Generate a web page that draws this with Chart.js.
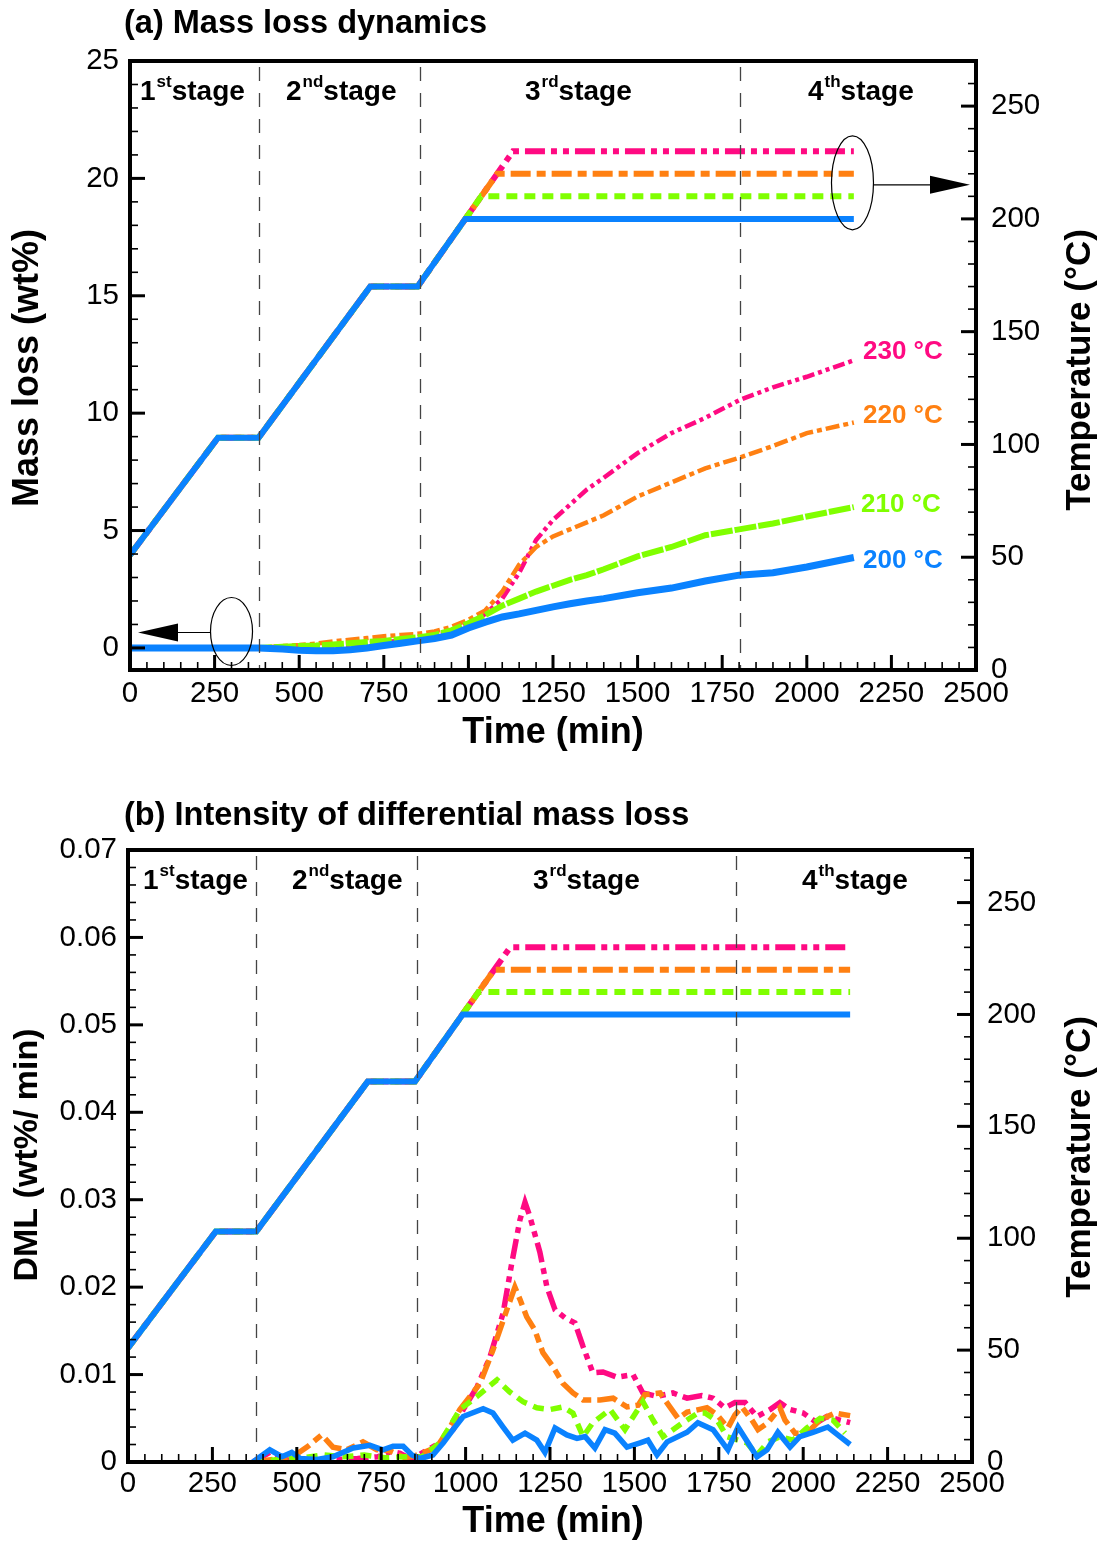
<!DOCTYPE html>
<html>
<head>
<meta charset="utf-8">
<script src="https://cdn.jsdelivr.net/npm/chart.js@4.4.1/dist/chart.umd.min.js"></script>
<style>
  body { margin: 0; background: #fff; }
  canvas { position: absolute; left: 0; }
  #chartA { top: 0; }
  #chartB { top: 770px; }
</style>
</head>
<body>
<canvas id="chartA" width="1108" height="770"></canvas>
<canvas id="chartB" width="1108" height="772"></canvas>
<script>
// ---- data ----
const xTicks = [0, 250, 500, 750, 1000, 1250, 1500, 1750, 2000, 2250, 2500];
const massTicks = [0, 5, 10, 15, 20, 25];
const dmlTicks = [0, 0.01, 0.02, 0.03, 0.04, 0.05, 0.06, 0.07];
const tempTicks = [0, 50, 100, 150, 200, 250];
const stageBounds = [380, 856, 1802];
const seriesNames = ['200 °C', '210 °C', '220 °C', '230 °C'];

// temperature programme (min, °C)
const tempTime200 = [0, 260, 380, 710, 850, 991, 2139];
const temp200 = [51, 103, 103, 170, 170, 200, 200];
const tempTime210 = [0, 260, 380, 710, 850, 1038, 2139];
const temp210 = [51, 103, 103, 170, 170, 210, 210];
const tempTime220 = [0, 260, 380, 710, 850, 1085, 2139];
const temp220 = [51, 103, 103, 170, 170, 220, 220];
const tempTime230 = [0, 260, 380, 710, 850, 1132, 2139];
const temp230 = [51, 103, 103, 170, 170, 230, 230];

// mass loss (wt%)
const massTime = [0, 380, 450, 500, 550, 600, 650, 700, 750, 800, 850, 900, 950, 1000, 1050, 1100,
  1150, 1200, 1250, 1300, 1350, 1400, 1500, 1600, 1700, 1800, 1900, 2000, 2139];
const mass200 = [0, 0, -0.05, -0.1, -0.12, -0.12, -0.08, 0, 0.1, 0.2, 0.3, 0.4, 0.55, 0.85, 1.1, 1.32,
  1.45, 1.6, 1.75, 1.88, 2.0, 2.1, 2.35, 2.55, 2.85, 3.1, 3.2, 3.45, 3.85];
const mass210 = [0, 0, 0.05, 0.08, 0.1, 0.15, 0.2, 0.25, 0.3, 0.38, 0.45, 0.55, 0.75, 1.05, 1.4, 1.8,
  2.1, 2.4, 2.65, 2.9, 3.1, 3.35, 3.9, 4.3, 4.8, 5.05, 5.3, 5.6, 6.0];
const mass220 = [0, 0, 0.08, 0.12, 0.18, 0.28, 0.35, 0.42, 0.5, 0.55, 0.6, 0.7, 0.9, 1.2, 1.6, 2.4,
  3.55, 4.3, 4.75, 5.05, 5.35, 5.65, 6.45, 7.05, 7.65, 8.1, 8.6, 9.15, 9.6];
const mass230 = [0, 0, 0, 0, 0.05, 0.1, 0.15, 0.2, 0.25, 0.3, 0.35, 0.5, 0.7, 1.0, 1.45, 2.1,
  3.2, 4.6, 5.45, 6.1, 6.75, 7.25, 8.3, 9.15, 9.8, 10.55, 11.1, 11.55, 12.25];

// differential mass loss (wt%/min)
const dmlTime200 = [370, 420, 456, 485, 510, 560, 607, 667, 717, 755, 785, 815, 841, 865, 903, 934, 963, 993,
  1052, 1081, 1111, 1140, 1176, 1211, 1235, 1265, 1300, 1330, 1354, 1383, 1413, 1442, 1478, 1517, 1540,
  1567, 1597, 1656, 1688, 1733, 1777, 1807, 1863, 1893, 1925, 1961, 1990, 2029, 2073, 2109, 2139];
const dml200 = [0, 0.0014, 0.0006, 0.0011, 0.0004, 0.0003, 0.0006, 0.0016, 0.0019, 0.0014, 0.0018, 0.0018,
  0.0008, 0.0004, 0.0008, 0.0022, 0.0037, 0.0052, 0.0061, 0.0056, 0.004, 0.0025, 0.0033, 0.0025, 0.0011,
  0.0039, 0.0031, 0.0027, 0.0029, 0.0016, 0.0037, 0.0033, 0.0017, 0.0022, 0.0025, 0.0008, 0.0023, 0.0034,
  0.0045, 0.0037, 0.0014, 0.004, 0.0006, 0.0014, 0.0034, 0.0017, 0.0029, 0.0034, 0.004, 0.0029, 0.002];
const dmlTime210 = [370, 450, 520, 580, 640, 700, 760, 820, 870, 924, 983, 1034, 1093, 1131, 1170, 1211, 1250,
  1288, 1318, 1348, 1377, 1428, 1472, 1525, 1555, 1585, 1644, 1688, 1709, 1748, 1774, 1833, 1863, 1896,
  1931, 1970, 2011, 2050, 2088, 2124];
const dml210 = [0, 0.0003, 0.0005, 0.0008, 0.0006, 0.0008, 0.0005, 0.0006, 0.0006, 0.0022, 0.006, 0.0075,
  0.0094, 0.008, 0.0069, 0.0062, 0.006, 0.0063, 0.0056, 0.0029, 0.0045, 0.006, 0.0037, 0.0069, 0.0048,
  0.0029, 0.0045, 0.0056, 0.0056, 0.0046, 0.0029, 0.0022, 0.0008, 0.0023, 0.0029, 0.0025, 0.0039, 0.005,
  0.0048, 0.0033];
const dmlTime220 = [370, 430, 480, 530, 574, 607, 648, 696, 737, 775, 820, 850, 915, 954, 983, 1043, 1081,
  1122, 1146, 1161, 1181, 1205, 1229, 1259, 1288, 1318, 1348, 1398, 1437, 1478, 1511, 1531, 1576, 1605,
  1629, 1656, 1715, 1745, 1777, 1798, 1818, 1848, 1866, 1896, 1931, 1946, 1976, 2011, 2050, 2094, 2139];
const dml220 = [0, 0.0003, 0.0004, 0.0017, 0.0031, 0.0017, 0.0014, 0.0023, 0.0014, 0.0013, 0.0005, 0.0007,
  0.0017, 0.004, 0.006, 0.009, 0.0128, 0.0174, 0.02, 0.0186, 0.0166, 0.0151, 0.0125, 0.0109, 0.009,
  0.0079, 0.0071, 0.0071, 0.0073, 0.0063, 0.0065, 0.0077, 0.0079, 0.0063, 0.005, 0.0057, 0.0062, 0.0054,
  0.0039, 0.0054, 0.0063, 0.0048, 0.0037, 0.0045, 0.0062, 0.0048, 0.0033, 0.0033, 0.0048, 0.0056, 0.0053];
const dmlTime230 = [370, 420, 460, 500, 560, 620, 680, 740, 780, 806, 840, 874, 924, 963, 993, 1034, 1072,
  1111, 1137, 1161, 1176, 1191, 1220, 1241, 1265, 1294, 1324, 1348, 1377, 1407, 1448, 1496, 1525, 1567,
  1614, 1656, 1700, 1733, 1768, 1798, 1828, 1863, 1902, 1931, 1961, 2000, 2040, 2070, 2109, 2139];
const dml230 = [0, 0.0011, 0.0003, 0.0001, 0.0002, 0.0003, 0.0004, 0.0006, 0.0012, 0.001, 0.0003, 0.0011,
  0.0022, 0.0037, 0.006, 0.0086, 0.012, 0.017, 0.0228, 0.0277, 0.0297, 0.028, 0.024, 0.02, 0.0174, 0.0165,
  0.0159, 0.0132, 0.0102, 0.0103, 0.0097, 0.01, 0.0079, 0.0075, 0.0079, 0.0073, 0.0076, 0.0073, 0.0062,
  0.0068, 0.0068, 0.0052, 0.006, 0.0068, 0.006, 0.0056, 0.0045, 0.0052, 0.0048, 0.0045];

// ---- styles ----
const FONT = "'Liberation Sans', Arial, Helvetica, sans-serif";
const BLUE = '#0a82ff', GREEN = '#80ff00', ORANGE = '#ff8012', PINK = '#ff0a82';
const DASH_230 = [20, 6, 6, 6, 6, 6], DASH_220 = [20, 6, 9, 6], DASH_210 = [11, 7];

function pairs(ts, vs) { return ts.map((t, i) => ({ x: t, y: vs[i] })); }

function line(data, color, width, dash, axis) {
  return {
    data, borderColor: color, borderWidth: width, borderDash: dash || [],
    pointRadius: 0, fill: false, tension: 0, yAxisID: axis, borderCapStyle: 'butt'
  };
}

function minors(from, to, step) {
  const out = [];
  for (let v = from; v <= to + step / 1000; v += step) out.push(+v.toFixed(6));
  return out;
}

function drawStage(ctx, x, y, num, sup) {
  ctx.textBaseline = 'middle';
  ctx.textAlign = 'left';
  ctx.font = 'bold 28px ' + FONT;
  ctx.fillText(num, x, y);
  x += ctx.measureText(num).width + 1;
  ctx.font = 'bold 17px ' + FONT;
  ctx.fillText(sup, x, y - 10);
  x += ctx.measureText(sup).width;
  ctx.font = 'bold 28px ' + FONT;
  ctx.fillText('stage', x, y);
}

function vText(ctx, txt, x, y, size) {
  ctx.save();
  ctx.translate(x, y);
  ctx.rotate(-Math.PI / 2);
  ctx.font = 'bold ' + size + 'px ' + FONT;
  ctx.textAlign = 'center';
  ctx.textBaseline = 'middle';
  ctx.fillText(txt, 0, 0);
  ctx.restore();
}

function arrowHead(ctx, x, y, dir) {
  ctx.beginPath();
  ctx.moveTo(x, y);
  ctx.lineTo(x - dir * 40, y - 9);
  ctx.lineTo(x - dir * 40, y + 9);
  ctx.closePath();
  ctx.fill();
}

const deco = {
  id: 'deco',
  afterDraw(chart, args, o) {
    const { ctx, chartArea: a, scales } = chart;
    const x = scales.x, y = scales.y, y1 = scales.y1;
    ctx.save();
    ctx.fillStyle = '#000';
    ctx.strokeStyle = '#000';

    // stage boundaries
    ctx.strokeStyle = '#444';
    ctx.lineWidth = 1.3;
    ctx.setLineDash([14, 12]);
    stageBounds.forEach(t => {
      const px = Math.round(x.getPixelForValue(t)) + 0.5;
      ctx.beginPath(); ctx.moveTo(px, a.top + 6); ctx.lineTo(px, a.bottom); ctx.stroke();
    });
    ctx.setLineDash([]);
    ctx.strokeStyle = '#000';

    // inward tick marks
    function tick(p, len, w, side) {
      ctx.lineWidth = w;
      ctx.beginPath();
      if (side === 'b') { ctx.moveTo(p, a.bottom); ctx.lineTo(p, a.bottom - len); }
      if (side === 'l') { ctx.moveTo(a.left, p); ctx.lineTo(a.left + len, p); }
      if (side === 'r') { ctx.moveTo(a.right, p); ctx.lineTo(a.right - len, p); }
      ctx.stroke();
    }
    minors(0, 2500, 50).forEach(v => tick(x.getPixelForValue(v), 8, 1.6, 'b'));
    xTicks.forEach(v => tick(x.getPixelForValue(v), 15, 3, 'b'));
    minors(o.yMinorFrom, y.max, o.yMinor).forEach(v => tick(y.getPixelForValue(v), 8, 1.6, 'l'));
    o.yMajor.forEach(v => tick(y.getPixelForValue(v), 15, 3, 'l'));
    minors(0, y1.max, 10).forEach(v => tick(y1.getPixelForValue(v), 8, 1.6, 'r'));
    tempTicks.forEach(v => tick(y1.getPixelForValue(v), 15, 3, 'r'));

    // frame
    ctx.lineWidth = 4;
    ctx.strokeRect(a.left, a.top, a.right - a.left, a.bottom - a.top);

    // stage labels
    o.stageX.forEach((sx, i) => drawStage(ctx, a.left + sx, a.top + o.stageY, String(i + 1), ['st', 'nd', 'rd', 'th'][i]));

    // titles
    ctx.textAlign = 'left';
    ctx.textBaseline = 'middle';
    ctx.font = 'bold 32.5px ' + FONT;
    ctx.fillText(o.title, 124, o.titleY);
    ctx.textAlign = 'center';
    ctx.font = 'bold 36px ' + FONT;
    ctx.fillText('Time (min)', 553, o.xTitleY);
    vText(ctx, o.yTitle, 28, o.vTitleY, o.yTitleSize);
    vText(ctx, 'Temperature (°C)', 1080, o.vTitleY + 2, 35);

    if (o.annot) {
      // series labels
      ctx.textAlign = 'left';
      ctx.font = 'bold 26px ' + FONT;
      const labY = [561, 505, 416, 352];
      const labX = [863, 861, 863, 863];
      const cols = [BLUE, GREEN, ORANGE, PINK];
      seriesNames.forEach((s, i) => { ctx.fillStyle = cols[i]; ctx.fillText(s, labX[i], labY[i]); });
      ctx.fillStyle = '#000';

      // ellipses and arrows
      ctx.lineWidth = 1.2;
      const ex = x.getPixelForValue(2135), ey = y1.getPixelForValue(216);
      ctx.beginPath(); ctx.ellipse(ex, ey, 21, 47, 0, 0, Math.PI * 2); ctx.stroke();
      ctx.beginPath(); ctx.moveTo(ex + 21, ey + 2); ctx.lineTo(a.right - 40, ey + 2); ctx.stroke();
      arrowHead(ctx, a.right - 6, ey + 2, 1);

      const lx = x.getPixelForValue(300), ly = y.getPixelForValue(0.7);
      ctx.beginPath(); ctx.ellipse(lx, ly, 21, 34, 0, 0, Math.PI * 2); ctx.stroke();
      ctx.beginPath(); ctx.moveTo(lx - 21, ly + 1); ctx.lineTo(a.left + 40, ly + 1); ctx.stroke();
      arrowHead(ctx, a.left + 8, ly + 1, -1);
    }
    ctx.restore();
  }
};

function scales(cfg) {
  const tickFont = { family: FONT, size: 29.5 };
  return {
    x: {
      type: 'linear', min: 0, max: 2500,
      afterBuildTicks: s => { s.ticks = xTicks.map(v => ({ value: v })); },
      afterFit: s => { s.height = cfg.xHeight; },
      ticks: { font: tickFont, color: '#000', padding: cfg.xPad, autoSkip: false, maxRotation: 0, callback: v => String(v) },
      grid: { display: false, drawTicks: false }, border: { display: false }
    },
    y: {
      type: 'linear', position: 'left', min: cfg.yMin, max: cfg.yMax,
      afterBuildTicks: s => { s.ticks = cfg.yTicks.map(v => ({ value: v })); },
      afterFit: s => { s.width = cfg.leftW; },
      ticks: { font: tickFont, color: '#000', padding: 11, callback: v => String(v) },
      grid: { display: false, drawTicks: false }, border: { display: false }
    },
    y1: {
      type: 'linear', position: 'right', min: 0, max: cfg.tMax,
      afterBuildTicks: s => { s.ticks = tempTicks.map(v => ({ value: v })); },
      afterFit: s => { s.width = cfg.rightW; },
      ticks: { font: tickFont, color: '#000', padding: 15, callback: v => String(v) },
      grid: { display: false, drawTicks: false }, border: { display: false }
    }
  };
}

function tempSets(w) {
  return [
    line(pairs(tempTime200, temp200), BLUE, w, null, 'y1'),
    line(pairs(tempTime210, temp210), GREEN, w, DASH_210, 'y1'),
    line(pairs(tempTime220, temp220), ORANGE, w, DASH_220, 'y1'),
    line(pairs(tempTime230, temp230), PINK, w, DASH_230, 'y1')
  ];
}

const common = {
  responsive: false, animation: false, devicePixelRatio: 1,
  plugins: { legend: { display: false }, tooltip: { enabled: false }, title: { display: false } }
};

// (a) mass loss
new Chart(document.getElementById('chartA'), {
  type: 'line',
  data: {
    datasets: [
      ...tempSets(6),
      line(pairs(massTime, mass200), BLUE, 7, null, 'y'),
      line(pairs(massTime, mass210), GREEN, 6, [22, 2], 'y'),
      line(pairs(massTime, mass220), ORANGE, 4.5, [14, 4, 5, 4], 'y'),
      line(pairs(massTime, mass230), PINK, 4.5, [12, 4, 4, 4, 4, 4], 'y')
    ]
  },
  options: {
    ...common,
    layout: { padding: { top: 61, left: 0, right: 0, bottom: 0 } },
    scales: scales({ xHeight: 100, xPad: 6, yMin: -0.94, yMax: 25, yTicks: massTicks, leftW: 130, rightW: 132, tMax: 270 }),
    plugins: {
      ...common.plugins,
      deco: {
        title: '(a) Mass loss dynamics', titleY: 24, xTitleY: 733, yTitle: 'Mass loss (wt%)', yTitleSize: 36, vTitleY: 368,
        yMajor: massTicks, yMinor: 1, yMinorFrom: 0,
        stageX: [10, 156, 395, 678], stageY: 31, annot: true
      }
    }
  },
  plugins: [deco]
});

// (b) differential mass loss
new Chart(document.getElementById('chartB'), {
  type: 'line',
  data: {
    datasets: [
      ...tempSets(6),
      line(pairs(dmlTime200, dml200), BLUE, 5.5, null, 'y'),
      line(pairs(dmlTime210, dml210), GREEN, 5.5, DASH_210, 'y'),
      line(pairs(dmlTime220, dml220), ORANGE, 5.5, DASH_220, 'y'),
      line(pairs(dmlTime230, dml230), PINK, 5.5, DASH_230, 'y')
    ]
  },
  options: {
    ...common,
    layout: { padding: { top: 80, left: 0, right: 0, bottom: 0 } },
    scales: scales({ xHeight: 80, xPad: 4, yMin: 0, yMax: 0.07, yTicks: dmlTicks, leftW: 128, rightW: 136, tMax: 273.5 }),
    plugins: {
      ...common.plugins,
      deco: {
        title: '(b) Intensity of differential mass loss', titleY: 46, xTitleY: 752, yTitle: 'DML (wt%/ min)', yTitleSize: 34, vTitleY: 385,
        yMajor: dmlTicks, yMinor: 0.002, yMinorFrom: 0,
        stageX: [15, 164, 405, 674], stageY: 31, annot: false
      }
    }
  },
  plugins: [deco]
});
</script>
</body>
</html>
